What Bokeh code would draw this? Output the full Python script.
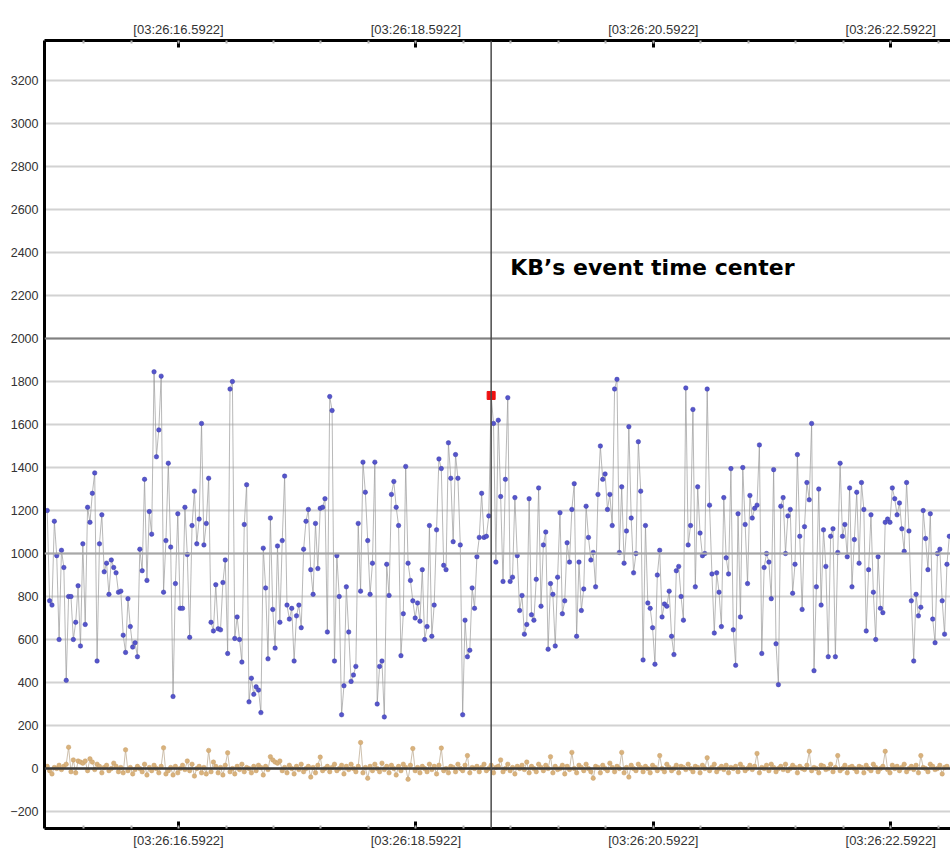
import numpy as np
from bokeh.plotting import figure
from bokeh.models import FixedTicker, LinearAxis, Span, Label, Range1d
from bokeh.embed import file_html
from bokeh.resources import INLINE

# ---- data -------------------------------------------------------------
# sample times are seconds after 03:26:00 (uniform 50 Hz sampling)
t_start = 15.486
t_step = 0.02

blue_values = [
    1200, 780, 760, 1150, 990, 600, 1015, 935, 410, 800, 800, 600, 680, 850, 570, 1045, 670, 1215, 1145, 1280,
    1375, 500, 1045, 1180, 915, 955, 810, 970, 935, 910, 820, 825, 620, 540, 790, 660, 565, 585, 520, 1020,
    920, 1345, 875, 1195, 1090, 1845, 1450, 1575, 1825, 820, 1060, 1420, 1030, 335, 860, 1185, 745, 745, 1215, 995,
    610, 1130, 1290,
    1045, 1160, 1605, 1040, 1140, 1350, 680, 640, 855, 650, 645, 865, 970, 535, 1765, 1800, 605, 705, 600, 495,
    1135, 1320, 310, 420, 345, 380, 365, 260, 1025, 840, 510, 1165, 740, 560, 1035, 680, 1060, 1360, 760, 695,
    745, 500, 710, 760, 655, 1020, 1150, 1205, 925, 810, 1140, 930, 1210, 1215, 1255, 635, 1730, 1665, 500, 990,
    800, 250,
    385, 845, 635, 405, 435, 475, 1140, 825, 1425, 1285, 1060, 810, 955, 1425, 300, 475, 500, 240, 950, 805,
    1275, 1335, 1215, 1130, 525, 720, 1405, 955, 875, 780, 700, 770, 685, 925, 600, 660, 1130, 615, 760, 1110,
    1440, 1395, 945, 925, 1515, 1350, 1055, 1460, 1350, 1040, 250, 690, 520, 550, 840, 745, 985, 1075, 1280, 1075,
    1080, 1175,
    1735,
    1605, 960, 1620, 1265, 870, 1345, 1725, 870, 890, 1260, 990, 735, 805, 625, 670, 1255, 715, 690, 880, 1305,
    755, 1040, 1100, 555, 860, 810, 570, 890, 1190, 720, 780, 1050, 960, 1205, 1325, 615, 960, 735, 835, 1220,
    1075, 970, 1005, 845, 1275, 1500, 1345, 1370, 1205, 1275, 1130, 1765, 1810, 1005, 1310, 955, 1105, 1590, 1165, 910,
    1000, 1520, 1290, 505,
    1130, 770, 745, 655, 485, 900, 1015, 705, 765, 755, 825, 615, 530, 920, 940, 800, 690, 1770, 1040, 1130,
    1670, 845, 1310, 1095, 990, 1000, 1765, 1225, 905, 630, 910, 820, 660, 1260, 980, 905, 1395, 645, 480, 1185,
    705, 1400, 1135, 860, 1270, 1165, 1210, 1225, 1505, 535, 935, 1000, 960, 790, 1390, 580, 390, 1220, 1260, 1000,
    1175, 1205, 815,
    950, 1460, 1080, 740, 1125, 1330, 1250, 1605, 455, 845, 1300, 760, 1110, 940, 520, 1080, 1115, 520, 1005, 1420,
    1080, 1135, 985, 1305, 845, 1065, 1285, 955, 1330, 1205, 640, 925, 1180, 820, 600, 985, 745, 725, 1145, 1160,
    1145, 1305, 1255, 1180, 1235, 1115, 1010, 1330, 1105, 780, 500, 810, 710, 750, 1200, 1070, 925, 1185, 695, 585,
    1000, 1020, 780, 625, 950, 1080,
]

tan_values = [
    10, -10, -25, 5, 0, 15, -5, 10, 20, 99, -15, 40, -20, 35, 30, 25, 35, -10, 45, 30,
    -5, 20, 10, -20, 5, 15, -10, 0, 25, 10, -15, 5, -20, 87, -10, 5, -25, -5, 10, 0,
    -15, 20, -30, 5, -10, 15, 0, -20, 10, 96, -25, -10, 5, -30, 10, -20, 0, 15, -5, 35,
    -10, 20, -35, 0, 10, -20, 5, -25, 84, -15, 30, 10, -20, 5, -30, 15, 73, -15, 0, -25,
    10, -5, 20, -15, 5, 0, -20, 10, -10, 15, 5, -30, 10, -5, 55, 40, 30, 25, 35, -10,
    5, -20, 15, 0, -25, 10, -5, 20, -15, 0, 10, -40, 5, -20, 15, 53, -10, 0, 10, -15,
    5, 20, -10, 0, 15, -25, 10, -5, 20, 0, -15, 10, 121, -20, 5, -45, 10, -10, 20, 0,
    -15, 25, -5, 10, -20, 15, 0, -30, 10, -10, 20, 5, -50, 15, 93, -10, 5, -20, 10, 0,
    -15, 20, -5, 10, -25, 15, 95, -10, 0, -20, 10, 5, -15, 20, 0, -10, 15, 60, -20, 5,
    0, 10, -15, 5, 20, -10, 0, 15, -20, 5, 10, 40, -15, 0, 20, -10, 5, -25, 10, 0,
    15, -5, 30, -20, 10, 0, -15, 20, 5, -10, 15, 0, 55, -20, 10, -5, 0, 15, -25, 10,
    -5, 75, 0, -20, 15, 5, -10, 20, 0, -15, -45, 10, 5, -20, 15, 0, -10, 25, 5, -15,
    10, 0, 75, -20, 5, -40, 15, 0, -10, 20, 5, -15, 10, 0, -20, 15, 5, -10, 60, 0,
    -15, 20, 5, -10, 0, 15, -20, 10, 5, -5, 20, 0, -15, 10, 5, -20, 15, 0, 50, -10,
    5, 20, -15, 0, 10, -5, 15, -20, 5, 0, 10, -15, 20, 5, -10, 0, 15, -5, 10, 70,
    -20, 5, 0, 15, -10, 20, 5, -15, 0, 10, -5, 20, -10, 0, 15, 5, -20, 10, 0, -5,
    15, 80, -10, 5, 0, -20, 15, 10, -5, 0, 20, -15, 5, 60, -10, 0, 15, -20, 5, 10,
    0, -15, 10, 5, -20, 15, 0, -10, 20, 5, -15, 0, 10, 80, -5, -20, 15, 0, 10, -10,
    5, 20, -15, 0, 10, -5, 15, -20, 60, 5, 0, -15, 20, 10, -5, 0, 15, -25, 5, 10,
]

event_index = 187                     # sample highlighted as the event time centre
annotation_text = "KB\u2019s event time center"
annotation_y = 2330

major_ticks = [16.5922, 18.5922, 20.5922, 22.5922]
tick_labels = ["[03:26:16.5922]", "[03:26:18.5922]", "[03:26:20.5922]", "[03:26:22.5922]"]
minor_ticks = [round(15.3922 + 0.4 * k, 4) for k in range(21)]
y_ticks = list(range(-200, 3201, 200))
y_emphasis_light = [1000]
y_emphasis_dark = [2000]

times = t_start + t_step * np.arange(len(blue_values))
tan_times = t_start + t_step * np.arange(len(tan_values))

# ---- figure -----------------------------------------------------------
p = figure(width=950, height=850, output_backend="svg", toolbar_location=None,
           x_range=Range1d(15.463, 23.096), y_range=Range1d(-279, 3386),
           x_axis_location=None, y_axis_location=None,
           min_border_left=44, min_border_top=40, min_border_bottom=22, min_border_right=0,
           background_fill_color="white", border_fill_color="white")
p.outline_line_color = None

label_font = "Liberation Sans"

def style_x_axis(ax):
    ax.ticker = FixedTicker(ticks=major_ticks, minor_ticks=minor_ticks)
    ax.major_label_overrides = {t: l for t, l in zip(major_ticks, tick_labels)}
    ax.axis_line_width = 3
    ax.axis_line_color = "black"
    ax.major_tick_in = 7
    ax.major_tick_out = 0
    ax.major_tick_line_width = 3
    ax.major_tick_line_color = "black"
    ax.minor_tick_in = 3
    ax.minor_tick_out = 0
    ax.minor_tick_line_width = 2
    ax.minor_tick_line_color = "#b0b0b0"
    ax.major_label_text_font = label_font
    ax.major_label_text_font_size = "13px"
    ax.major_label_text_color = "#333333"
    ax.major_label_standoff = 4

top_axis = LinearAxis()
style_x_axis(top_axis)
p.add_layout(top_axis, "above")
bottom_axis = LinearAxis()
style_x_axis(bottom_axis)
p.add_layout(bottom_axis, "below")

left_axis = LinearAxis()
left_axis.ticker = FixedTicker(ticks=y_ticks, minor_ticks=[])
left_axis.axis_line_width = 3
left_axis.axis_line_color = "black"
left_axis.major_tick_line_color = None
left_axis.major_tick_in = 0
left_axis.major_tick_out = 0
left_axis.minor_tick_line_color = None
left_axis.major_label_text_font = label_font
left_axis.major_label_text_font_size = "12.5px"
left_axis.major_label_text_color = "#333333"
left_axis.major_label_standoff = 6
p.add_layout(left_axis, "left")

p.xgrid.visible = False
p.ygrid.ticker = FixedTicker(ticks=y_ticks)
p.ygrid.grid_line_color = "#d2d2d2"
p.ygrid.grid_line_width = 2

for v in y_emphasis_light:
    p.add_layout(Span(location=v, dimension="width", line_color="#a8a8a8", line_width=2))
for v in y_emphasis_dark:
    p.add_layout(Span(location=v, dimension="width", line_color="#808080", line_width=2))

# series
p.line(tan_times, tan_values, line_color="#b8a58a", line_width=0.7)
p.scatter(tan_times, tan_values, size=4.5, fill_color="#d9b27c", line_color="#c9a06a", line_width=0.5)

p.add_layout(Span(location=0, dimension="width", line_color="#3a3a3a", line_width=2.5))

p.line(times, blue_values, line_color="#9a9a9a", line_width=0.7)
p.scatter(times, blue_values, size=4.5, fill_color="#5555cc", line_color="#3d3da8", line_width=0.5)

event_time = float(times[event_index])
p.add_layout(Span(location=event_time, dimension="height", line_color="#4a4a4a", line_width=1.5))
p.scatter([event_time], [blue_values[event_index]], marker="square", size=8,
          fill_color="#ee1111", line_color="#ee1111")

p.add_layout(Label(x=event_time, y=annotation_y, x_offset=19, text=annotation_text,
                   text_font="DejaVu Sans", text_font_style="bold", text_font_size="22px",
                   text_baseline="middle", text_color="black"))

open("out.html", "w").write(file_html(p, INLINE))
